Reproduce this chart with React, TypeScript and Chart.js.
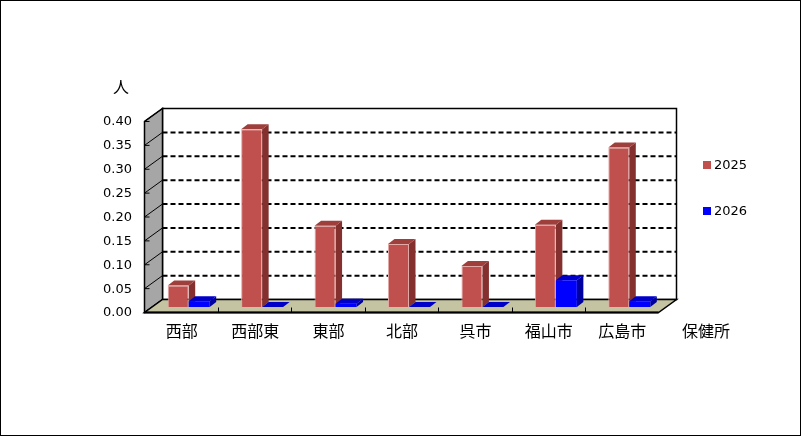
import { useEffect, useRef } from "react";
import { Chart, registerables } from "chart.js";

Chart.register(...registerables);

// 保健所別の値（人）
const areas = ["西部", "西部東", "東部", "北部", "呉市", "福山市", "広島市"];
const values2025 = [0.045, 0.372, 0.17, 0.132, 0.086, 0.172, 0.334];
const values2026 = [0.012, 0, 0.007, 0, 0, 0.056, 0.012];
const seriesLabels = ["2025", "2026"];
const yMax = 0.4;
const yStep = 0.05;

// depth offsets from the plane the bars' fronts sit in
const FRONT = { dx: -7.5, dy: 5.5 };
const BACK = { dx: 10.5, dy: -7.5 };
const BAR_DEPTH = { dx: 6.5, dy: -5 };

const faceColors = [
  { side: "#83302e", top: "#9e3f3c" },
  { side: "#0000a0", top: "#0000c8" },
];

const jpFont = "'Noto Sans CJK JP', sans-serif";
const numFont = "'DejaVu Sans', sans-serif";

const box3d = {
  id: "box3d",
  beforeDraw(chart: any) {
    const { ctx, width, height } = chart;
    ctx.save();
    ctx.fillStyle = "#fff";
    ctx.fillRect(0, 0, width, height);
    ctx.strokeStyle = "#000";
    ctx.lineWidth = 1;
    ctx.strokeRect(0.5, 0.5, width - 1, height - 1);
    ctx.restore();
  },
  beforeDatasetsDraw(chart: any) {
    const { ctx } = chart;
    const xs = chart.scales.x;
    const ys = chart.scales.y;
    const L = xs.left;
    const R = xs.right;
    const y0 = ys.getPixelForValue(0);
    const yT = ys.getPixelForValue(ys.max);

    ctx.save();
    ctx.strokeStyle = "#000";

    // back wall
    ctx.fillStyle = "#fff";
    ctx.fillRect(L + BACK.dx, yT + BACK.dy, R - L, y0 - yT);

    // dashed grid on back wall
    ctx.setLineDash([5, 3]);
    ctx.lineWidth = 2;
    ys.ticks.forEach((t: any) => {
      if (t.value <= ys.min || t.value >= ys.max) return;
      const py = ys.getPixelForValue(t.value) + BACK.dy;
      ctx.beginPath();
      ctx.moveTo(L + BACK.dx, py);
      ctx.lineTo(R + BACK.dx, py);
      ctx.stroke();
    });
    ctx.setLineDash([]);

    // back wall outline
    ctx.lineWidth = 1.5;
    ctx.strokeRect(L + BACK.dx, yT + BACK.dy, R - L, y0 - yT);

    // side wall
    ctx.fillStyle = "#a6a6a6";
    ctx.beginPath();
    ctx.moveTo(L + FRONT.dx, y0 + FRONT.dy);
    ctx.lineTo(L + FRONT.dx, yT + FRONT.dy);
    ctx.lineTo(L + BACK.dx, yT + BACK.dy);
    ctx.lineTo(L + BACK.dx, y0 + BACK.dy);
    ctx.closePath();
    ctx.fill();
    ctx.lineWidth = 1.5;
    ctx.stroke();

    ctx.lineWidth = 1;
    ys.ticks.forEach((t: any) => {
      const p = ys.getPixelForValue(t.value);
      ctx.beginPath();
      ctx.moveTo(L + FRONT.dx, p + FRONT.dy);
      ctx.lineTo(L + BACK.dx, p + BACK.dy);
      ctx.moveTo(L + FRONT.dx, p + FRONT.dy);
      ctx.lineTo(L + FRONT.dx + 5, p + FRONT.dy);
      ctx.stroke();
    });

    // floor
    ctx.fillStyle = "#c4c4a2";
    ctx.beginPath();
    ctx.moveTo(L + FRONT.dx, y0 + FRONT.dy);
    ctx.lineTo(R + FRONT.dx, y0 + FRONT.dy);
    ctx.lineTo(R + BACK.dx, y0 + BACK.dy);
    ctx.lineTo(L + BACK.dx, y0 + BACK.dy);
    ctx.closePath();
    ctx.fill();
    ctx.lineWidth = 1.5;
    ctx.stroke();

    ctx.lineWidth = 2;
    ctx.beginPath();
    ctx.moveTo(L + FRONT.dx, y0 + FRONT.dy);
    ctx.lineTo(R + FRONT.dx, y0 + FRONT.dy);
    ctx.stroke();

    // category ticks on front edge
    ctx.lineWidth = 1;
    for (let i = 1; i < areas.length; i++) {
      const px =
        (xs.getPixelForValue(i - 1) + xs.getPixelForValue(i)) / 2 + FRONT.dx;
      ctx.beginPath();
      ctx.moveTo(Math.round(px) + 0.5, y0 + FRONT.dy);
      ctx.lineTo(Math.round(px) + 0.5, y0 + FRONT.dy - 5);
      ctx.stroke();
    }

    // bars: side + top faces, then the front from the element itself
    chart.data.datasets.forEach((_: any, d: number) => {
      const meta = chart.getDatasetMeta(d);
      meta.data.forEach((bar: any) => {
        const left = bar.x - bar.width / 2;
        const right = bar.x + bar.width / 2;
        const top = bar.y;
        const bottom = bar.base;
        ctx.fillStyle = faceColors[d].side;
        ctx.beginPath();
        ctx.moveTo(right, top);
        ctx.lineTo(right + BAR_DEPTH.dx, top + BAR_DEPTH.dy);
        ctx.lineTo(right + BAR_DEPTH.dx, bottom + BAR_DEPTH.dy);
        ctx.lineTo(right, bottom);
        ctx.closePath();
        ctx.fill();
        ctx.fillStyle = faceColors[d].top;
        ctx.beginPath();
        ctx.moveTo(left, top);
        ctx.lineTo(left + BAR_DEPTH.dx, top + BAR_DEPTH.dy);
        ctx.lineTo(right + BAR_DEPTH.dx, top + BAR_DEPTH.dy);
        ctx.lineTo(right, top);
        ctx.closePath();
        ctx.fill();
        bar.draw(ctx);
      });
    });

    ctx.restore();
    return false;
  },
  afterDraw(chart: any) {
    const { ctx } = chart;
    ctx.save();
    ctx.fillStyle = "#000";
    ctx.textBaseline = "middle";
    ctx.textAlign = "center";
    ctx.font = `16px ${jpFont}`;
    ctx.fillText("人", 121, 87);
    ctx.fillText("保健所", 706, 331);

    // legend
    ctx.textAlign = "left";
    ctx.font = `13px ${numFont}`;
    chart.data.datasets.forEach((ds: any, i: number) => {
      const y = 165 + i * 46;
      ctx.fillStyle = ds.backgroundColor;
      ctx.fillRect(703, y - 4, 8, 8);
      ctx.fillStyle = "#000";
      ctx.fillText(ds.label, 714, y + 1);
    });
    ctx.restore();
  },
};

export default function App() {
  const canvasRef = useRef<HTMLCanvasElement | null>(null);

  useEffect(() => {
    const canvas = canvasRef.current;
    if (!canvas) return;

    const chart = new Chart(canvas, {
      type: "bar",
      data: {
        labels: areas,
        datasets: [
          {
            label: seriesLabels[0],
            data: values2025,
            backgroundColor: "#c0504d",
            borderColor: "#e2a9a7",
            borderWidth: 1,
            categoryPercentage: 0.572,
            barPercentage: 1,
          },
          {
            label: seriesLabels[1],
            data: values2026,
            backgroundColor: "#0000ff",
            borderWidth: 0,
            categoryPercentage: 0.572,
            barPercentage: 1,
          },
        ],
      },
      options: {
        responsive: false,
        animation: false,
        layout: { padding: { left: 92, right: 135, top: 116, bottom: 89 } },
        plugins: {
          legend: { display: false },
          tooltip: { enabled: false },
        },
        scales: {
          x: {
            grid: { display: false, drawTicks: false },
            border: { display: false },
            afterFit: (scale: any) => {
              scale.height = 40;
            },
            ticks: {
              color: "#000",
              font: { family: jpFont, size: 16 },
              padding: 14,
              labelOffset: -7,
              maxRotation: 0,
            },
          },
          y: {
            min: 0,
            max: yMax,
            grid: { display: false, drawTicks: false },
            border: { display: false },
            afterFit: (scale: any) => {
              scale.width = 60;
            },
            ticks: {
              stepSize: yStep,
              color: "#000",
              font: { family: numFont, size: 13 },
              padding: 20,
              labelOffset: 6,
              callback: (v: any) => Number(v).toFixed(2),
            },
          },
        },
      },
      plugins: [box3d],
    });

    return () => {
      chart.destroy();
    };
  }, []);

  return (
    <div style={{ position: "absolute", left: 0, top: 0, width: 801, height: 436 }}>
      <canvas ref={canvasRef} width={801} height={436} style={{ display: "block" }} />
    </div>
  );
}
